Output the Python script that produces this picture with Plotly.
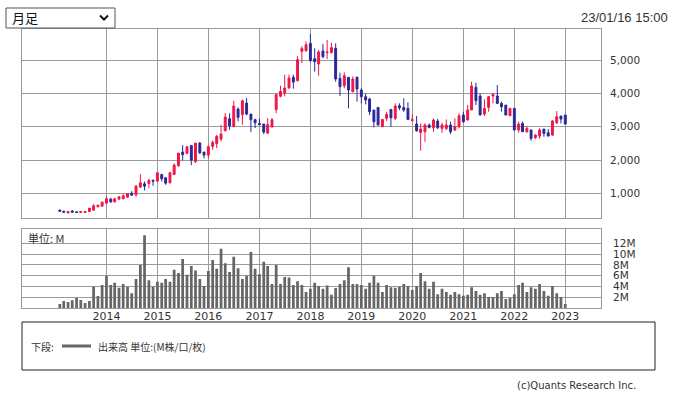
import pandas as pd
import plotly.graph_objects as go

# ---------------- data ----------------
months = pd.date_range("2013-02-01", periods=120, freq="MS")

opens = [505, 470, 420, 475, 450, 430, 430, 460, 500, 600, 620, 710,
         830, 750, 830, 840, 890, 1010, 960, 1190, 1290, 1300, 1400, 1370,
         1570, 1470, 1320, 1570, 1830, 2240, 2200, 2440, 1950, 2510, 2240, 2150,
         2410, 2490, 2630, 2880, 3240, 3010, 3530, 3360, 3710, 3380, 3210, 3100,
         3080, 2810, 2990, 3510, 3910, 4010, 4160, 4480, 4380, 5260, 5280, 5500,
         5040, 4880, 5270, 5220, 5220, 5350, 4450, 4230, 4480, 4050, 4480, 4100,
         3900, 3830, 3500, 3580, 3000, 3250, 3520, 3250, 3630, 3580, 3550, 3190,
         3080, 2830, 2850, 3050, 2970, 3170, 2950, 2950, 3050, 2900, 3000, 3350,
         3200, 3500, 4180, 3920, 3380, 3580, 3920, 3920, 3700, 3650, 3330, 3550,
         2900, 3100, 2850, 2900, 2670, 2720, 2930, 2820, 2750, 3120, 3320, 3350]
highs = [510, 475, 465, 505, 460, 465, 465, 565, 680, 660, 750, 920,
         870, 870, 910, 980, 1010, 1070, 1250, 1580, 1360, 1450, 1400, 1630,
         1570, 1470, 1650, 1900, 2210, 2450, 2410, 2440, 2510, 2540, 2240, 2450,
         2590, 2760, 3060, 3410, 3400, 3780, 3580, 3810, 3860, 3380, 3240, 3240,
         3080, 3260, 3260, 3990, 4230, 4560, 4560, 4560, 5110, 5410, 5560, 5780,
         5350, 5300, 5480, 5600, 5520, 5500, 4620, 4630, 4480, 4510, 4510, 4150,
         4000, 3870, 3500, 3580, 3220, 3450, 3520, 3700, 3700, 3850, 3730, 3370,
         3320, 3100, 3100, 3100, 3250, 3230, 3120, 3220, 3150, 3250, 3400, 3450,
         3650, 4350, 4320, 4000, 3820, 3920, 4000, 4250, 3750, 3650, 3550, 3550,
         3150, 3150, 3020, 2920, 2780, 2950, 2930, 2930, 3200, 3470, 3320, 3350]
lows = [460, 435, 400, 430, 425, 425, 425, 455, 495, 590, 610, 700,
        720, 730, 820, 830, 880, 930, 900, 1170, 1090, 1160, 1230, 1350,
        1360, 1260, 1300, 1550, 1800, 1990, 2190, 1850, 1920, 2180, 2050, 2050,
        2310, 2360, 2560, 2860, 2910, 2980, 3160, 3060, 3340, 2840, 2960, 3060,
        2780, 2780, 2990, 3410, 3880, 3910, 4140, 4140, 4360, 4910, 5240, 4940,
        4650, 4530, 5050, 5030, 5200, 4350, 3920, 4150, 3550, 4030, 3750, 3700,
        3670, 3350, 2980, 3050, 3000, 3170, 3000, 3200, 3500, 3450, 3200, 3150,
        2850, 2280, 2550, 2950, 2850, 2930, 2820, 2900, 2780, 2870, 2950, 3120,
        3200, 3500, 3650, 3350, 3320, 3450, 3700, 3680, 3450, 3350, 3330, 2900,
        2820, 2850, 2820, 2580, 2630, 2640, 2700, 2720, 2720, 3080, 3100, 3080]
closes = [465, 440, 460, 440, 430, 460, 460, 560, 630, 650, 740, 840,
          750, 840, 900, 930, 1000, 950, 1220, 1320, 1220, 1390, 1370, 1620,
          1440, 1310, 1620, 1850, 2210, 2160, 2400, 2000, 2510, 2220, 2150, 2400,
          2530, 2710, 2780, 3290, 3030, 3620, 3280, 3780, 3380, 3210, 3120, 3060,
          2840, 3060, 3210, 3960, 4060, 4160, 4460, 4340, 5010, 5340, 5460, 4980,
          4950, 5240, 5100, 5240, 5370, 4430, 4200, 4530, 4100, 4430, 4130, 3900,
          3800, 3450, 3150, 3050, 3220, 3370, 3270, 3620, 3570, 3500, 3220, 3210,
          2880, 2930, 3050, 2980, 3200, 2970, 3050, 3050, 2850, 3000, 3330, 3150,
          3500, 4220, 3780, 3350, 3550, 3900, 3970, 3700, 3600, 3350, 3550, 2900,
          3080, 2850, 2950, 2650, 2750, 2900, 2800, 2720, 3170, 3300, 3230, 3080]
volume_m = [0.8, 1.35, 1.17, 1.48, 1.9, 1.54, 1.0, 1.35,
            4.0, 2.28, 4.3, 6.0, 4.3, 4.7, 3.8, 4.5, 4.0, 2.8, 5.4, 8.0,
            13.5, 5.2, 4.0, 4.9, 4.7, 5.4, 4.9, 7.1, 6.5, 9.1, 6.2, 7.8,
            7.0, 5.4, 4.1, 6.9, 8.9, 7.3, 11.0, 8.3, 6.7, 9.5, 7.4, 5.4,
            6.0, 10.4, 7.3, 6.3, 8.6, 7.8, 4.5, 8.0, 4.5, 5.8, 5.7, 4.3,
            5.0, 4.3, 3.0, 3.6, 4.7, 4.1, 3.6, 4.2, 2.5, 3.75, 4.5, 5.2,
            7.6, 4.5, 4.5, 4.3, 3.6, 4.7, 6.0, 4.7, 3.0, 4.3, 3.9, 3.8,
            4.0, 4.5, 4.1, 3.4, 4.1, 6.5, 5.0, 3.6, 4.9, 2.6, 3.6, 3.0,
            2.5, 3.0, 2.6, 2.3, 2.5, 3.9, 3.2, 2.5, 2.8, 2.1, 2.1, 2.8,
            3.2, 1.7, 1.9, 2.6, 4.3, 4.7, 3.0, 3.9, 3.6, 4.5, 3.2, 2.3,
            4.1, 2.8, 2.1, 0.8]
year_ticks = ["2014-01-01", "2015-01-01", "2016-01-01", "2017-01-01", "2018-01-01",
              "2019-01-01", "2020-01-01", "2021-01-01", "2022-01-01", "2023-01-01"]
year_labels = ["2014", "2015", "2016", "2017", "2018", "2019", "2020", "2021", "2022", "2023"]
price_ticks = [1000, 2000, 3000, 4000, 5000]
vol_ticks = [2, 4, 6, 8, 10, 12]
vol_labels = ["2M", "4M", "6M", "8M", "10M", "12M"]

# ---------------- style ----------------
W, H = 676, 397
RED = "#EE1848"
BLUE = "#2A2898"
GRID = "#9a9a9a"
TXT = "#333333"
FONT = "DejaVu Sans"


def px(x):
    return x / W


def py(y):
    return 1 - y / H


X_RANGE = ["2012-05-06", "2023-09-14"]

fig = go.Figure()
fig.add_trace(go.Candlestick(
    x=months, open=opens, high=highs, low=lows, close=closes,
    increasing=dict(line=dict(color=RED, width=1), fillcolor=RED),
    decreasing=dict(line=dict(color=BLUE, width=1), fillcolor=BLUE),
    whiskerwidth=0, xaxis="x", yaxis="y", showlegend=False,
))
fig.add_trace(go.Bar(
    x=months, y=volume_m, marker=dict(color="#666666", line=dict(width=0)),
    xaxis="x2", yaxis="y2", showlegend=False,
))

axis_common = dict(showline=True, linecolor=GRID, linewidth=1, mirror=True,
                   showgrid=True, gridcolor=GRID, gridwidth=1, zeroline=False)

fig.update_layout(
    width=W, height=H,
    margin=dict(l=0, r=0, t=0, b=0),
    paper_bgcolor="white", plot_bgcolor="white",
    bargap=0.3,
    font=dict(family=FONT, color=TXT, size=10),
    xaxis=dict(domain=[px(22), px(601)], range=X_RANGE, type="date",
               tickvals=year_ticks, showticklabels=False, rangeslider=dict(visible=False),
               anchor="y", **axis_common),
    yaxis=dict(domain=[py(218), py(28.5)], range=[265, 5944], side="right",
               tickvals=price_ticks, tickformat=",d", ticks="", ticklabelstandoff=6,
               tickfont=dict(size=10.5, color=TXT), anchor="x", **axis_common),
    xaxis2=dict(domain=[px(22), px(601)], range=X_RANGE, type="date",
                tickvals=year_ticks, ticktext=year_labels, ticks="", ticklabelstandoff=-3,
                tickfont=dict(size=11, color=TXT), anchor="y2", **axis_common),
    yaxis2=dict(domain=[py(308.3), py(229)], range=[0, 14.64], side="right",
                tickvals=vol_ticks, ticktext=vol_labels, ticks="", ticklabelstandoff=9,
                tickfont=dict(size=10.5, color=TXT), anchor="x2", **axis_common),
)

shapes = [
    # dropdown box
    dict(type="rect", xref="paper", yref="paper", x0=px(6), x1=px(115), y0=py(28), y1=py(8),
         line=dict(color="#555555", width=1), fillcolor="white"),
    dict(type="path", xref="paper", yref="paper",
         path=f"M {px(100)},{py(15.5)} L {px(104)},{py(19.5)} L {px(108)},{py(15.5)}",
         line=dict(color="#111111", width=2)),
    # legend box
    dict(type="rect", xref="paper", yref="paper", x0=px(22), x1=px(655), y0=py(370), y1=py(322),
         line=dict(color="#222222", width=1)),
    dict(type="line", xref="paper", yref="paper", x0=px(62), x1=px(91), y0=py(346), y1=py(346),
         line=dict(color="#666666", width=3)),
]
fig.update_layout(shapes=shapes)

ann = [
    dict(text="月足", x=px(10), y=py(18), xanchor="left", yanchor="middle",
         font=dict(family="Noto Sans CJK JP", size=13, color="#111111")),
    dict(text="23/01/16 15:00", x=px(670), y=py(17), xanchor="right", yanchor="middle",
         font=dict(family="Liberation Sans", size=13, color=TXT)),
    dict(text="単位: M", x=px(26), y=py(238), xanchor="left", yanchor="middle",
         font=dict(family="Noto Sans CJK JP", size=11, color=TXT)),
    dict(text="下段:", x=px(29), y=py(346), xanchor="left", yanchor="middle",
         font=dict(family="Noto Sans CJK JP", size=10, color=TXT)),
    dict(text="出来高 単位:(M株/口/枚)", x=px(96), y=py(346), xanchor="left", yanchor="middle",
         font=dict(family="Noto Sans CJK JP", size=10, color=TXT)),
    dict(text="(c)Quants Research Inc.", x=px(638), y=py(385), xanchor="right", yanchor="middle",
         font=dict(family="DejaVu Sans", size=10, color=TXT)),
]
for a in ann:
    a.update(xref="paper", yref="paper", showarrow=False)
fig.update_layout(annotations=ann)

fig.write_html("out.html", config={"displayModeBar": False},
               post_script="document.body.style.margin='0';document.body.style.overflow='hidden';")
